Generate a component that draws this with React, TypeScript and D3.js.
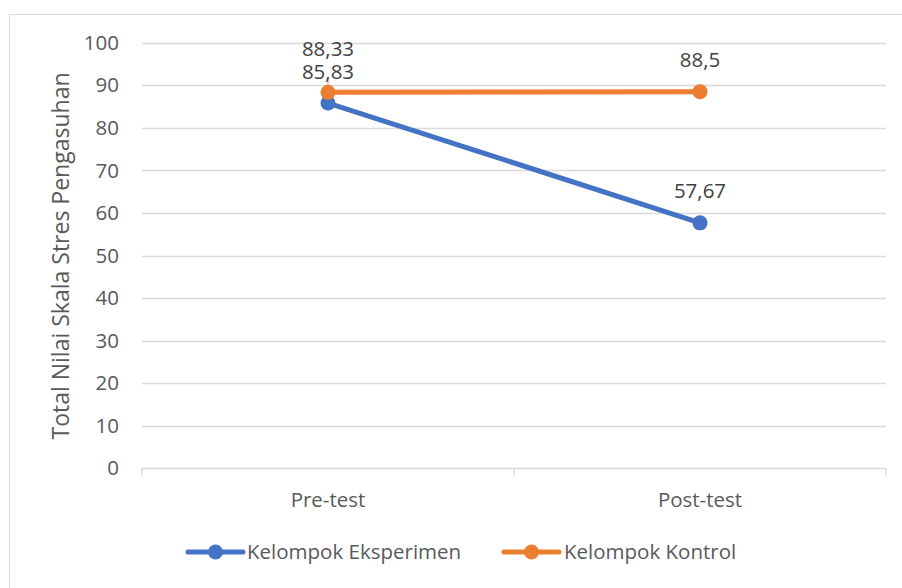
import React, { useEffect, useRef } from 'react';
import * as d3 from 'd3';

const categories = ['Pre-test', 'Post-test'];
const eksperimen = [85.83, 57.67];
const kontrol = [88.33, 88.5];
const yTicks = [0, 10, 20, 30, 40, 50, 60, 70, 80, 90, 100];
const seriesNames = ['Kelompok Eksperimen', 'Kelompok Kontrol'];
const seriesColors = ['#4472C4', '#ED7D31'];

const fmt = (v: number) => String(v).replace('.', ',');

export default function App() {
  const ref = useRef<SVGSVGElement>(null);

  useEffect(() => {
    const width = 902;
    const height = 588;
    const svg = d3.select(ref.current);
    svg.selectAll('*').remove();
    svg.attr('width', width).attr('height', height);

    const font = "'Open Sans', sans-serif";
    const fs = 20.5;

    svg.append('rect').attr('width', width).attr('height', height).attr('fill', '#fff');
    // chart area frame (cropped on right and bottom)
    svg.append('rect')
      .attr('x', 9.5).attr('y', 14.5)
      .attr('width', width + 20).attr('height', height + 20)
      .attr('fill', 'none').attr('stroke', '#d9d9d9').attr('stroke-width', 1);

    const x = d3.scaleBand().domain(categories).range([142, 886]);
    const y = d3.scaleLinear().domain([0, 100]).range([468.3, 42.7]);

    // gridlines
    svg.append('g')
      .selectAll('line')
      .data(yTicks.slice(1))
      .enter()
      .append('line')
      .attr('x1', 142).attr('x2', 886)
      .attr('y1', d => Math.round(y(d)) + 0.5)
      .attr('y2', d => Math.round(y(d)) + 0.5)
      .attr('stroke', '#d9d9d9').attr('stroke-width', 1.3);

    // x axis
    const y0 = Math.round(y(0)) + 0.5;
    svg.append('line')
      .attr('x1', 142).attr('x2', 886).attr('y1', y0).attr('y2', y0)
      .attr('stroke', '#d9d9d9').attr('stroke-width', 1.3);
    const tickXs = [142, ...categories.map(c => (x(c) as number) + x.bandwidth())];
    svg.append('g')
      .selectAll('line')
      .data(tickXs)
      .enter()
      .append('line')
      .attr('x1', d => d).attr('x2', d => d)
      .attr('y1', y0).attr('y2', y0 + 7)
      .attr('stroke', '#d9d9d9').attr('stroke-width', 1.3);

    svg.append('g')
      .selectAll('text')
      .data(categories)
      .enter()
      .append('text')
      .attr('x', d => (x(d) as number) + x.bandwidth() / 2)
      .attr('y', 500)
      .attr('dy', '0.35em')
      .attr('text-anchor', 'middle')
      .attr('font-family', font).attr('font-size', fs).attr('fill', '#595959')
      .text(d => d);

    // y tick labels
    svg.append('g')
      .selectAll('text')
      .data(yTicks)
      .enter()
      .append('text')
      .attr('x', 119)
      .attr('y', d => y(d))
      .attr('dy', '0.35em')
      .attr('text-anchor', 'end')
      .attr('font-family', font).attr('font-size', fs).attr('fill', '#595959')
      .text(d => d);

    // y axis title
    svg.append('text')
      .attr('transform', 'translate(61,256) rotate(-90)')
      .attr('text-anchor', 'middle')
      .attr('dy', '0.35em')
      .attr('font-family', font).attr('font-size', 23).attr('fill', '#595959')
      .text('Total Nilai Skala Stres Pengasuhan');

    const cx = (c: string) => (x(c) as number) + x.bandwidth() / 2;
    const line = d3.line<number>()
      .x((_, i) => cx(categories[i]))
      .y(d => y(d));

    const allSeries = [eksperimen, kontrol];
    // leader line for pre-test eksperimen label
    svg.append('line')
      .attr('x1', cx(categories[0])).attr('x2', cx(categories[0]))
      .attr('y1', 79).attr('y2', y(kontrol[0]) - 1)
      .attr('stroke', '#a6a6a6').attr('stroke-width', 1);

    allSeries.forEach((vals, si) => {
      svg.append('path')
        .datum(vals)
        .attr('d', line)
        .attr('fill', 'none')
        .attr('stroke', seriesColors[si])
        .attr('stroke-width', 5)
        .attr('stroke-linecap', 'round');
      svg.append('g')
        .selectAll('circle')
        .data(vals)
        .enter()
        .append('circle')
        .attr('cx', (_, i) => cx(categories[i]))
        .attr('cy', d => y(d))
        .attr('r', 7.5)
        .attr('fill', seriesColors[si]);
    });

    // data labels
    const labelY = (si: number, i: number) => {
      if (i === 0) return si === 0 ? 71.5 : 48.5;
      return y(allSeries[si][i]) - 32;
    };
    allSeries.forEach((vals, si) => {
      svg.append('g')
        .selectAll('text')
        .data(vals)
        .enter()
        .append('text')
        .attr('x', (_, i) => cx(categories[i]))
        .attr('y', (_, i) => labelY(si, i))
        .attr('dy', '0.35em')
        .attr('text-anchor', 'middle')
        .attr('font-family', font).attr('font-size', fs).attr('fill', '#404040')
        .text(d => fmt(d));
    });

    // legend
    const legendItems = [
      { x1: 188, tx: 247 },
      { x1: 504, tx: 564 },
    ];
    const legend = svg.append('g')
      .selectAll('g')
      .data(seriesNames)
      .enter()
      .append('g')
      .attr('transform', (_, i) => `translate(${legendItems[i].x1},552)`);
    legend.append('line')
      .attr('x1', 0).attr('x2', 55).attr('y1', 0).attr('y2', 0)
      .attr('stroke', (_, i) => seriesColors[i])
      .attr('stroke-width', 5).attr('stroke-linecap', 'round');
    legend.append('circle')
      .attr('cx', 27.5).attr('cy', 0).attr('r', 7.5)
      .attr('fill', (_, i) => seriesColors[i]);
    legend.append('text')
      .attr('x', (_, i) => legendItems[i].tx - legendItems[i].x1)
      .attr('y', 0).attr('dy', '0.35em')
      .attr('font-family', font).attr('font-size', fs).attr('fill', '#595959')
      .text(d => d);
  }, []);

  return <svg ref={ref} style={{ position: 'absolute', left: 0, top: 0 }} />;
}
